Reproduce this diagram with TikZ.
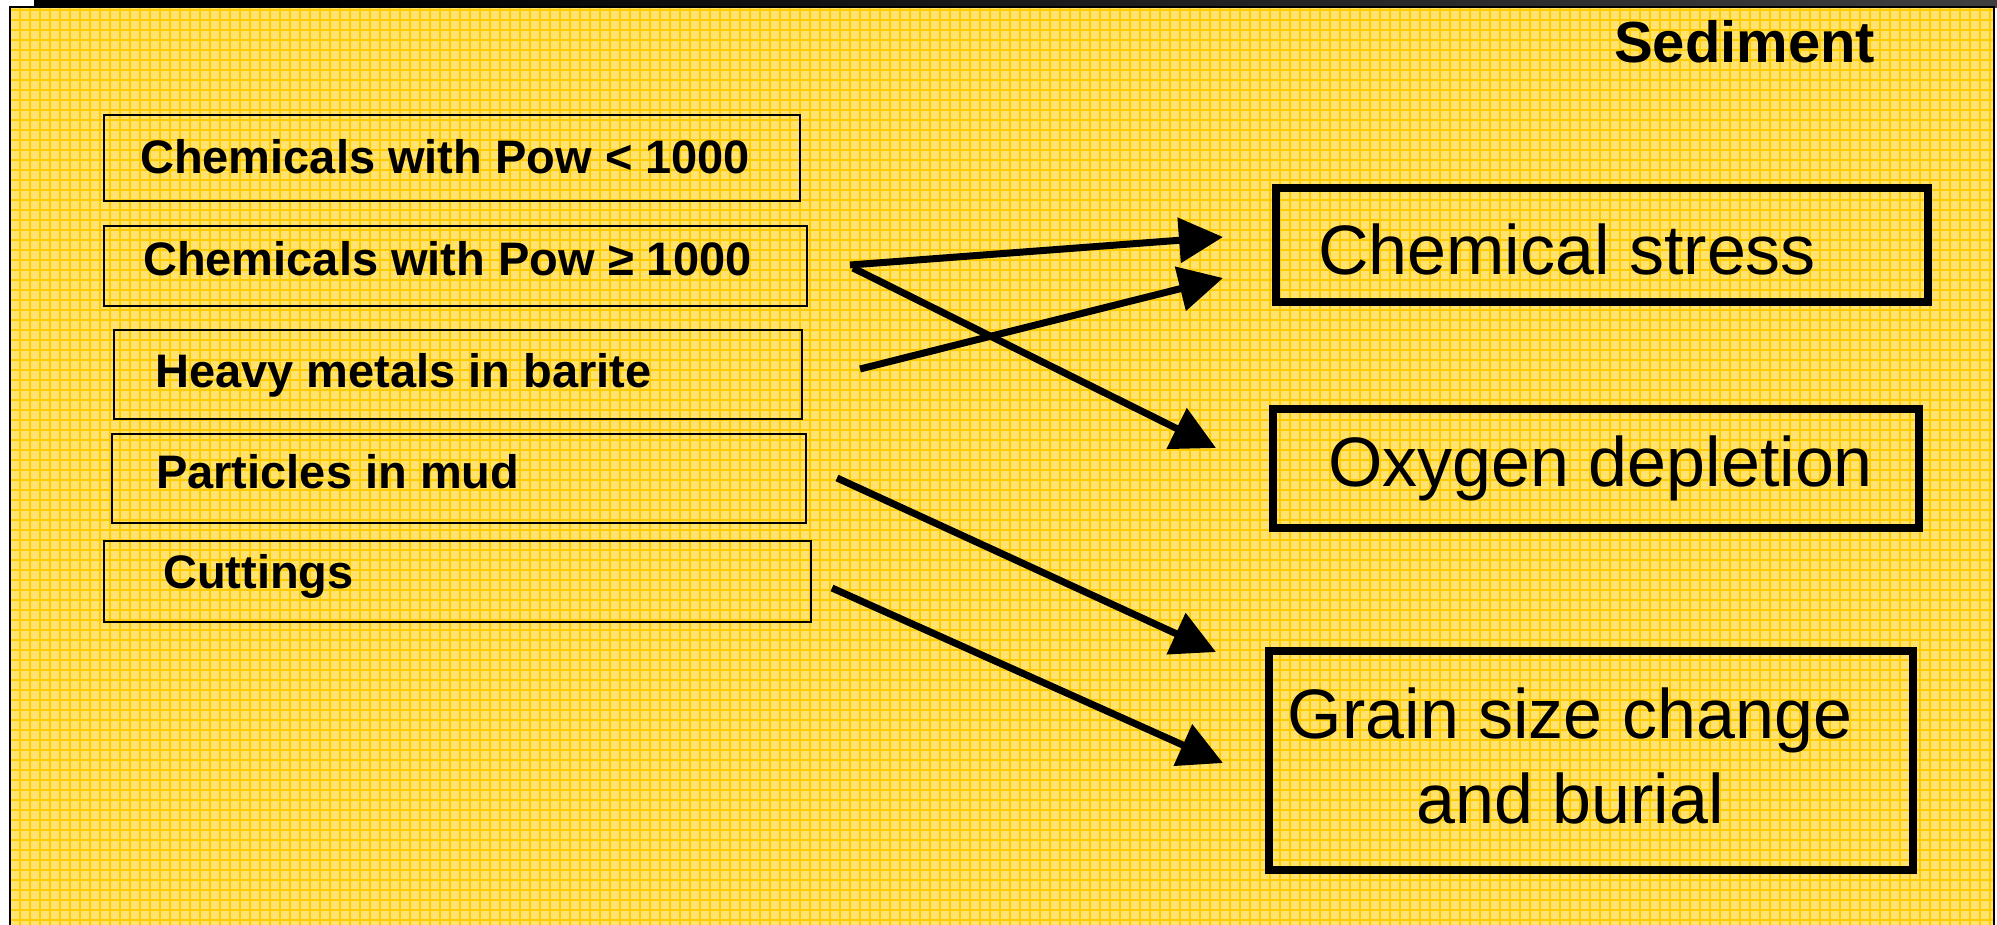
\documentclass[tikz,border=0pt]{standalone}
\usepackage{fontspec}
\setmainfont{Liberation Sans}
\usetikzlibrary{arrows.meta,fit}
\definecolor{panelbg}{RGB}{255,226,112}
\definecolor{gridgold}{RGB}{255,204,0}
\tikzset{
  lbox/.style={draw=black, line width=2pt, inner sep=0pt},
  rbox/.style={draw=black, line width=8pt, inner sep=0pt},
  ltext/.style={anchor=base west, inner sep=0pt, font=\fontsize{47}{56}\selectfont\bfseries},
  rtext/.style={anchor=base west, inner sep=0pt, font=\fontsize{70}{84}\selectfont},
  ctext/.style={anchor=base, inner sep=0pt, font=\fontsize{70}{84}\selectfont},
  flow/.style={line width=7pt, -{Triangle[length=44pt,width=44pt]}},
  gridline/.style={draw=gridgold, line width=1.2pt},
}
\begin{document}
\begin{tikzpicture}[x=1pt,y=-1pt]
\useasboundingbox (0,0) rectangle (1997,924);
\clip (0,0) rectangle (1997,924);
\fill[white] (0,0) rectangle (1997,924);
% top bar
\fill[black] (34,0) rectangle (300,7);
\shade[left color=black, right color=black!75] (300,0) rectangle (1997,7);
% panel
\fill[panelbg] (10,7) rectangle (1994,930);
\draw[gridline, step=10pt] (10,7) grid (1994,930);
\draw[black, line width=2.5pt] (10,930) -- (10,7) -- (1994,7) -- (1994,930);

\node[anchor=base west, inner sep=0pt, font=\fontsize{58}{70}\selectfont\bfseries] (sed) at (1614,62) {Sediment};

% left boxes
\node[lbox, fit={(104,115) (800,201)}] (b1) {};
\node[lbox, fit={(104,226) (807,306)}] (b2) {};
\node[lbox, fit={(114,330) (802,419)}] (b3) {};
\node[lbox, fit={(112,434) (806,523)}] (b4) {};
\node[lbox, fit={(104,541) (811,622)}] (b5) {};
\node[ltext] (t1) at (140,173) {Chemicals with Pow < 1000};
\node[ltext] (t2) at (143,275) {Chemicals with Pow ≥ 1000};
\node[ltext] (t3) at (155,387) {Heavy metals in barite};
\node[ltext] (t4) at (156,488) {Particles in mud};
\node[ltext] (t5) at (163,588) {Cuttings};

% right boxes
\node[rbox, fit={(1276,188) (1928,302)}] (r1) {};
\node[rbox, fit={(1273,409) (1919,528)}] (r2) {};
\node[rbox, fit={(1269,651) (1913,870)}] (r3) {};
\node[rtext] (s1) at (1318,274) {Chemical stress};
\node[rtext] (s2) at (1328,486) {Oxygen depletion};
\node[ctext] (s3a) at (1570,738) {Grain size change};
\node[ctext] (s3b) at (1570,823) {and burial};

% arrows
\coordinate (a1s) at (850,265);  \coordinate (a1e) at (1223,237);
\coordinate (a2s) at (853,268);  \coordinate (a2e) at (1216,448);
\coordinate (a3s) at (860,369);  \coordinate (a3e) at (1223,278);
\coordinate (a4s) at (837,478);  \coordinate (a4e) at (1216,652);
\coordinate (a5s) at (832,588);  \coordinate (a5e) at (1223,763);
\draw[flow] (a1s) -- (a1e);
\draw[flow] (a2s) -- (a2e);
\draw[flow] (a3s) -- (a3e);
\draw[flow] (a4s) -- (a4e);
\draw[flow] (a5s) -- (a5e);
\end{tikzpicture}
\end{document}
